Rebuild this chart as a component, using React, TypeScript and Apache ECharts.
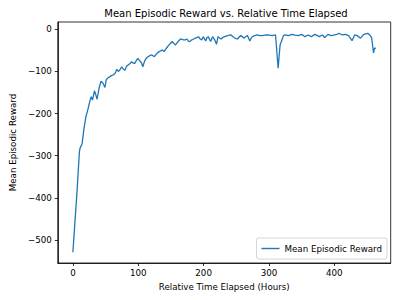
import React, { useEffect, useRef } from "react";
import * as echarts from "echarts";

const hours = [
  0, 3, 6, 10, 11, 14, 17, 20, 23, 26, 28, 30, 33, 35, 37, 40, 43, 46, 49, 51, 53, 56, 59, 62, 65, 67, 69.5, 72,
  74.6, 77, 79.6, 82, 84.5, 87, 89.6, 92, 94.6, 97, 99.5, 101.5, 103.6, 105, 107, 109.5, 112, 115, 117, 119.7,
  122, 124.6, 127, 129.5, 132, 134.5, 137, 139.6, 142, 144.5, 147, 149.5, 152, 154.6, 157, 160, 162, 164.7, 167,
  169.5, 172, 174.6, 177, 179.7, 182, 184.7, 187, 189.6, 192, 194.7, 197, 199.7, 203, 205, 207, 210.7, 213.7, 217,
  219.7, 222, 224.5, 227, 229.5, 232, 234.5, 237, 239.5, 242, 244.5, 247, 249.5, 252, 254.5, 257, 259.5, 262, 264.5,
  267, 270.7, 272.7, 274.8, 278, 282, 286, 290, 293, 297, 301, 305, 308, 310, 314, 317, 320, 322, 325, 330, 335,
  340, 345, 350, 355, 360, 365, 370, 374, 377, 382, 385, 390, 395, 400, 404, 407, 412, 417, 422, 427, 431, 435,
  440, 445, 451, 454, 457, 460, 461.5, 463.5,
];

const rewards = [
  -529, -460, -393, -290, -282, -272, -235, -207, -190, -170, -160, -168, -146, -155, -166, -140, -123, -128, -138,
  -120, -116, -113, -110, -108, -104, -95, -100, -96, -89, -94, -97, -88, -85, -82, -77, -80, -81, -74, -69, -73,
  -77, -80, -89, -76, -69, -65, -63, -61, -62, -65, -60, -56, -53, -51, -49, -53, -47, -42, -37, -33, -29, -34,
  -37, -31, -27, -23, -24, -25, -25, -23, -29, -28, -25, -23, -21, -20, -17.5, -23, -25, -17.5, -28, -20, -17.5,
  -29, -17.5, -25, -35.6, -17.5, -21, -23, -19, -17.5, -16, -15, -14, -13.5, -17, -20, -22, -23, -18, -15, -18,
  -21, -17, -15, -28, -21, -17.5, -15, -13.5, -15, -15, -14, -13.5, -14, -15, -14, -13.5, -92.5, -37, -25, -15,
  -13.5, -15, -12, -14, -15, -12, -17.5, -13.5, -17.5, -12, -15, -17.5, -13.5, -20, -12, -15, -13.5, -12, -9.5,
  -13.5, -12, -15, -27, -13.5, -15, -21, -12, -9.5, -13.5, -20, -56, -45, -45,
];

const xTicks = [0, 100, 200, 300, 400];
const yTicks = [-500, -400, -300, -200, -100, 0];

const fmt = (v: number) => (v < 0 ? "\u2212" + Math.abs(v) : String(v));

export default function App() {
  const ref = useRef<HTMLDivElement>(null);
  useEffect(() => {
    if (!ref.current) return;
    const chart = echarts.init(ref.current, undefined, { renderer: "svg" });
    const font = "DejaVu Sans";
    const data = hours.map((h, i) => [h, rewards[i]]);
    chart.setOption({
      animation: false,
      backgroundColor: "#ffffff",
      textStyle: { fontFamily: font },
      title: {
        text: "Mean Episodic Reward vs. Relative Time Elapsed",
        left: 221,
        textAlign: "center",
        top: 3,
        textStyle: { fontFamily: font, fontSize: 10, fontWeight: "normal", color: "#000" },
      },
      grid: {
        left: 51.7,
        right: 9.3,
        top: 22,
        bottom: 37,
        show: true,
        borderColor: "#000",
        borderWidth: 0.8,
        containLabel: false,
      },
      legend: {
        right: 13,
        bottom: 41,
        orient: "vertical",
        backgroundColor: "rgba(255,255,255,0.8)",
        borderColor: "#cccccc",
        borderWidth: 0.8,
        borderRadius: 2,
        padding: [6, 5, 6, 5],
        icon: "rect",
        itemWidth: 18,
        itemHeight: 1.4,
        itemGap: 4,
        textStyle: { fontFamily: font, fontSize: 8.7, color: "#000" },
        data: [{ name: "Mean Episodic Reward" }],
      },
      xAxis: {
        type: "value",
        min: -23.15,
        max: 486.2,
        name: "Relative Time Elapsed (Hours)",
        nameLocation: "middle",
        nameGap: 19,
        nameTextStyle: { fontFamily: font, fontSize: 8.7, color: "#000" },
        axisLine: { show: true, onZero: false, lineStyle: { color: "#000", width: 0.8 } },
        axisTick: { show: true, inside: false, length: 3, customValues: xTicks, lineStyle: { color: "#000", width: 0.8 } },
        axisLabel: { customValues: xTicks, margin: 5, fontFamily: font, fontSize: 8.7, color: "#000", formatter: (v: number) => fmt(v) },
        splitLine: { show: false },
      },
      yAxis: {
        type: "value",
        min: -554.6,
        max: 17.3,
        name: "Mean Episodic Reward",
        nameLocation: "middle",
        nameGap: 33,
        nameTextStyle: { fontFamily: font, fontSize: 8.7, color: "#000" },
        axisLine: { show: true, onZero: false, lineStyle: { color: "#000", width: 0.8 } },
        axisTick: { show: true, inside: false, length: 3, customValues: yTicks, lineStyle: { color: "#000", width: 0.8 } },
        axisLabel: { customValues: yTicks, margin: 6, fontFamily: font, fontSize: 8.7, color: "#000", formatter: (v: number) => fmt(v) },
        splitLine: { show: false },
      },
      series: [
        {
          name: "Mean Episodic Reward",
          type: "line",
          data,
          showSymbol: false,
          symbol: "none",
          lineStyle: { color: "#1f77b4", width: 1.3 },
          itemStyle: { color: "#1f77b4" },
        },
      ],
    });
    return () => chart.dispose();
  }, []);
  return <div ref={ref} style={{ width: 400, height: 300, position: "absolute", left: 0, top: 0 }} />;
}
